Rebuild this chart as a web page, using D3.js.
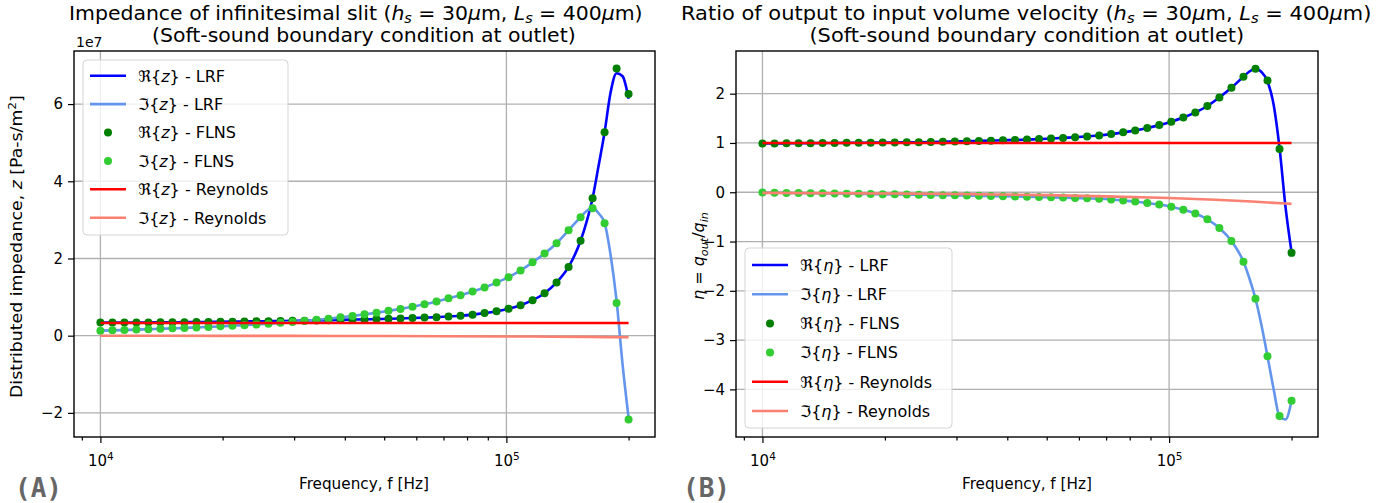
<!DOCTYPE html>
<html>
<head>
<meta charset="utf-8">
<script src="https://cdn.jsdelivr.net/npm/d3@7"></script>
<style>
  body { margin: 0; background: #fff; }
  svg { font-family: "DejaVu Sans", sans-serif; }
</style>
</head>
<body>
<svg id="chart" width="1386" height="503"></svg>
<script>
/*** Frequencies [Hz] of the FLNS points (log spaced, 1e4 .. 2e5) ***/
var freq = [10000, 10705, 11459, 12266, 13130, 14055, 15046, 16106, 17241, 18455,
  19756, 21147, 22637, 24232, 25940, 27767, 29724, 31818, 34060, 36459,
  39028, 41778, 44721, 47872, 51245, 54856, 58721, 62858, 67287, 72027,
  77102, 82535, 88350, 94574, 101238, 108371, 116006, 124179, 132928, 142294,
  152319, 163051, 174539, 186836, 200000];

// LRF curves are sampled a bit finer near the resonance
var lrfFreq = [10000, 10705, 11459, 12266, 13130, 14055, 15046, 16106, 17241, 18455,
  19756, 21147, 22637, 24232, 25940, 27767, 29724, 31818, 34060, 36459,
  39028, 41778, 44721, 47872, 51245, 54856, 58721, 62858, 67287, 72027,
  77102, 82535, 88350, 94574, 101238, 108371, 116006, 124179, 132928, 142294,
  152319, 157597, 163051, 168697, 174539, 180583, 186836, 193306, 200000];

var reyFreq = [10000, 20000, 30000, 50000, 70000, 100000, 130000, 160000, 200000];

/*** Panel A : distributed impedance, in units of 1e7 Pa-s/m^2 ***/
var flnsReZ = [0.34, 0.34, 0.34, 0.342, 0.344, 0.346, 0.348, 0.35, 0.353, 0.356,
  0.36, 0.364, 0.368, 0.372, 0.376, 0.38, 0.385, 0.39, 0.396, 0.402,
  0.408, 0.415, 0.422, 0.43, 0.438, 0.447, 0.457, 0.468, 0.48, 0.495,
  0.515, 0.545, 0.585, 0.635, 0.70, 0.79, 0.92, 1.10, 1.38, 1.78,
  2.46, 3.56, 5.27, 6.92, 6.26];
var flnsImZ = [0.13, 0.138, 0.147, 0.157, 0.167, 0.178, 0.19, 0.202, 0.215, 0.228,
  0.242, 0.257, 0.273, 0.29, 0.31, 0.332, 0.356, 0.382, 0.41, 0.44,
  0.475, 0.512, 0.552, 0.596, 0.643, 0.694, 0.75, 0.812, 0.885, 0.97,
  1.05, 1.145, 1.25, 1.375, 1.515, 1.69, 1.90, 2.13, 2.395, 2.73,
  3.07, 3.30, 2.91, 0.845, -2.17];
var lrfReZ = [0.34, 0.34, 0.34, 0.342, 0.344, 0.346, 0.348, 0.35, 0.353, 0.356,
  0.36, 0.364, 0.368, 0.372, 0.376, 0.38, 0.385, 0.39, 0.396, 0.402,
  0.408, 0.415, 0.422, 0.43, 0.438, 0.447, 0.457, 0.468, 0.48, 0.495,
  0.515, 0.545, 0.585, 0.635, 0.70, 0.79, 0.92, 1.10, 1.38, 1.78,
  2.46, 2.95, 3.56, 4.40, 5.27, 6.30, 6.80, 6.72, 6.14];
var lrfImZ = [0.13, 0.138, 0.147, 0.157, 0.167, 0.178, 0.19, 0.202, 0.215, 0.228,
  0.242, 0.257, 0.273, 0.29, 0.31, 0.332, 0.356, 0.382, 0.41, 0.44,
  0.475, 0.512, 0.552, 0.596, 0.643, 0.694, 0.75, 0.812, 0.885, 0.97,
  1.05, 1.145, 1.25, 1.375, 1.515, 1.69, 1.90, 2.13, 2.395, 2.73,
  3.07, 3.23, 3.31, 3.17, 2.92, 2.09, 0.90, -0.75, -2.13];
var reyReZ = [0.328, 0.328, 0.328, 0.328, 0.328, 0.328, 0.328, 0.328, 0.328];
var reyImZ = [-0.002, -0.004, -0.006, -0.01, -0.014, -0.02, -0.026, -0.032, -0.04];

/*** Panel B : volume velocity ratio eta ***/
var flnsReEta = [0.99, 0.99, 0.992, 0.994, 0.996, 0.998, 1.0, 1.002, 1.004, 1.006,
  1.008, 1.01, 1.013, 1.016, 1.02, 1.025, 1.03, 1.035, 1.041, 1.047,
  1.054, 1.06, 1.068, 1.078, 1.09, 1.103, 1.117, 1.133, 1.152, 1.18,
  1.215, 1.255, 1.303, 1.362, 1.432, 1.515, 1.62, 1.75, 1.925, 2.12,
  2.345, 2.505, 2.265, 0.88, -1.23];
var flnsImEta = [-0.007, -0.01, -0.013, -0.016, -0.019, -0.022, -0.026, -0.029, -0.032, -0.036,
  -0.04, -0.043, -0.047, -0.051, -0.055, -0.059, -0.063, -0.067, -0.071, -0.076,
  -0.08, -0.085, -0.09, -0.096, -0.102, -0.109, -0.116, -0.124, -0.133, -0.146,
  -0.165, -0.19, -0.217, -0.25, -0.295, -0.355, -0.43, -0.55, -0.725, -0.99,
  -1.41, -2.16, -3.33, -4.54, -4.23];
var lrfReEta = [0.99, 0.99, 0.992, 0.994, 0.996, 0.998, 1.0, 1.002, 1.004, 1.006,
  1.008, 1.01, 1.013, 1.016, 1.02, 1.025, 1.03, 1.035, 1.041, 1.047,
  1.054, 1.06, 1.068, 1.078, 1.09, 1.103, 1.117, 1.133, 1.152, 1.18,
  1.215, 1.255, 1.303, 1.362, 1.432, 1.515, 1.62, 1.75, 1.925, 2.12,
  2.345, 2.45, 2.51, 2.44, 2.25, 1.79, 0.90, -0.30, -1.21];
var lrfImEta = [-0.007, -0.01, -0.013, -0.016, -0.019, -0.022, -0.026, -0.029, -0.032, -0.036,
  -0.04, -0.043, -0.047, -0.051, -0.055, -0.059, -0.063, -0.067, -0.071, -0.076,
  -0.08, -0.085, -0.09, -0.096, -0.102, -0.109, -0.116, -0.124, -0.133, -0.146,
  -0.165, -0.19, -0.217, -0.25, -0.295, -0.355, -0.43, -0.55, -0.725, -0.99,
  -1.41, -1.75, -2.16, -2.70, -3.33, -3.98, -4.55, -4.61, -4.23];
var reyReEta = [1, 1, 1, 1, 1, 1, 1, 1, 1];
var reyImEta = [-0.012, -0.024, -0.035, -0.059, -0.083, -0.118, -0.153, -0.189, -0.236];

/*** Ticks ***/
var xMajor = [1e4, 1e5];
var xMinor = [9000, 20000, 30000, 40000, 50000, 60000, 70000, 80000, 90000, 200000];
var yTicksA = [-2, 0, 2, 4, 6];
var yTicksB = [-4, -3, -2, -1, 0, 1, 2];

var svg = d3.select("#chart");

// text made of plain / italic / sub / sup pieces (stand-in for mathtext)
function addMath(text, parts, size, subDrop) {
  var drop = subDrop === undefined ? 0.22 : subDrop;
  var shift = 0, nodes = [];
  parts.forEach(function (p) {
    var style = p[1] || "";
    var target = style === "sub" ? size * drop : (style === "sup" ? -size * 0.4 : 0);
    var s = text.append("tspan").attr("dy", target - shift).text(p[0]);
    shift = target;
    if (style === "i" || style === "sub") s.attr("font-style", "italic");
    if (style === "sub" || style === "sup") s.attr("font-size", size * 0.7);
    nodes.push(s);
  });
  return nodes;
}

function widthOf(nodes) {
  return d3.sum(nodes, (s) => s.node().getComputedTextLength());
}

// squeeze a text horizontally so it spans `len` pixels (the figure is condensed)
function fitText(parts, size, x, y, len, rotate) {
  var t = svg.append("text").attr("font-size", size);
  var sx = len / widthOf(addMath(t, parts, size));
  t.attr("transform", "translate(" + x + "," + y + ")" + (rotate ? " rotate(-90)" : "") +
    " scale(" + sx + ",1)");
  return t;
}

// two-line title in one text element
function titleBlock(line1, line2, left1, len1, center2) {
  var size = 19;
  var t = svg.append("text").attr("font-size", size);
  var n1 = addMath(t, line1, size, 0.14);
  var n2 = addMath(t, line2, size);
  var sx = len1 / widthOf(n1);
  n1[0].attr("x", left1 / sx).attr("y", 20);
  n2[0].attr("x", center2 / sx - widthOf(n2) / 2).attr("y", 42);
  t.attr("transform", "scale(" + sx + ",1)");
}

function seriesList(re, im, varName) {
  return [
    { kind: "line", x: lrfFreq, y: re[0], color: "#0000ff", part: "\u211c", src: "LRF" },
    { kind: "line", x: lrfFreq, y: im[0], color: "#6495ed", part: "\u2111", src: "LRF" },
    { kind: "dot", x: freq, y: re[1], color: "#008000", part: "\u211c", src: "FLNS" },
    { kind: "dot", x: freq, y: im[1], color: "#32cd32", part: "\u2111", src: "FLNS" },
    { kind: "line", x: reyFreq, y: re[2], color: "#ff0000", part: "\u211c", src: "Reynolds" },
    { kind: "line", x: reyFreq, y: im[2], color: "#fa8072", part: "\u2111", src: "Reynolds" }
  ].map(function (s) { s.v = varName; return s; });
}

function drawPanel(p) {
  var g = svg.append("g");

  /*** Scales, padded by 5% like matplotlib autoscale ***/
  var allF = [], allV = [];
  p.series.forEach(function (s) { allF = allF.concat(s.x); allV = allV.concat(s.y); });
  var lf = d3.extent(allF).map(Math.log10);
  var padF = 0.05 * (lf[1] - lf[0]);
  var x = d3.scaleLog()
    .domain([Math.pow(10, lf[0] - padF), Math.pow(10, lf[1] + padF)])
    .range([p.left, p.right]);
  var ve = d3.extent(allV);
  var padV = 0.05 * (ve[1] - ve[0]);
  var y = d3.scaleLinear()
    .domain([ve[0] - padV, ve[1] + padV])
    .range([p.bottom, p.top]);

  /*** Grid ***/
  g.append("g").selectAll("line")
    .data(xMajor)
    .join("line")
    .attr("x1", (d) => x(d)).attr("x2", (d) => x(d))
    .attr("y1", p.top).attr("y2", p.bottom)
    .attr("stroke", "#b0b0b0").attr("stroke-width", 1.3);
  g.append("g").selectAll("line")
    .data(p.yTicks)
    .join("line")
    .attr("x1", p.left).attr("x2", p.right)
    .attr("y1", (d) => y(d)).attr("y2", (d) => y(d))
    .attr("stroke", "#b0b0b0").attr("stroke-width", 1.3);

  /*** Series ***/
  var line = d3.line()
    .x((d) => x(d[0]))
    .y((d) => y(d[1]))
    .curve(d3.curveMonotoneX);

  p.series.forEach(function (s) {
    var pts = s.x.map((f, i) => [f, s.y[i]]);
    if (s.kind === "line") {
      g.append("path")
        .datum(pts)
        .attr("d", line)
        .attr("fill", "none")
        .attr("stroke", s.color)
        .attr("stroke-width", 2.6);
    } else {
      g.append("g").selectAll("circle")
        .data(pts)
        .join("circle")
        .attr("cx", (d) => x(d[0]))
        .attr("cy", (d) => y(d[1]))
        .attr("r", 4)
        .attr("fill", s.color);
    }
  });

  /*** Axes ***/
  var xAxis = g.append("g")
    .attr("transform", "translate(0," + p.bottom + ")")
    .call(d3.axisBottom(x).tickValues(xMajor).tickSize(6).tickFormat(""));
  xAxis.selectAll(".tick text")
    .attr("y", 29).attr("dy", 0)
    .each(function (d) {
      addMath(d3.select(this), [["10"], [String(Math.round(Math.log10(d))), "sup"]], 15);
    });
  g.append("g")
    .attr("transform", "translate(0," + p.bottom + ")")
    .call(d3.axisBottom(x).tickValues(xMinor).tickSize(3.5).tickFormat(""));

  g.append("g")
    .attr("transform", "translate(" + p.left + ",0)")
    .call(d3.axisLeft(y).tickValues(p.yTicks).tickSize(6).tickPadding(5)
      .tickFormat((d) => (d < 0 ? "\u2212" + Math.abs(d) : String(d))));

  g.selectAll(".domain").remove();
  g.selectAll(".tick line").attr("stroke-width", 1.2);
  g.selectAll(".tick text").attr("fill", "#000");
  g.selectAll("g").filter(function () { return this.hasAttribute("font-size"); })
    .attr("font-size", 15).attr("font-family", null);

  g.append("rect")
    .attr("x", p.left).attr("y", p.top)
    .attr("width", p.right - p.left).attr("height", p.bottom - p.top)
    .attr("fill", "none").attr("stroke", "#000").attr("stroke-width", 1.4);

  /*** Legend ***/
  var L = p.legend;
  var lg = g.append("g").attr("transform", "translate(" + L.x + "," + L.y + ")");
  lg.append("rect")
    .attr("width", L.w).attr("height", L.h).attr("rx", 4)
    .attr("fill", "#fff").attr("fill-opacity", 0.8)
    .attr("stroke", "#d5d5d5");
  p.series.forEach(function (s, i) {
    var cy = L.row0 + i * L.step;
    if (s.kind === "line") {
      lg.append("line")
        .attr("x1", 7).attr("x2", 43).attr("y1", cy).attr("y2", cy)
        .attr("stroke", s.color).attr("stroke-width", 2.6);
    } else {
      lg.append("circle").attr("cx", 25).attr("cy", cy).attr("r", 4).attr("fill", s.color);
    }
    addMath(lg.append("text").attr("x", 55).attr("y", cy + 5.8).attr("font-size", 16),
      [[s.part + "{"], [s.v, "i"], ["} - " + s.src]], 16);
  });

  return { x: x, y: y };
}

/*** Panel A ***/
drawPanel({
  left: 74, right: 655, top: 51, bottom: 437,
  yTicks: yTicksA,
  series: seriesList([lrfReZ, flnsReZ, reyReZ], [lrfImZ, flnsImZ, reyImZ], "z"),
  legend: { x: 83, y: 60, w: 205, h: 175, row0: 15.7, step: 28.4 }
});

/*** Panel B ***/
drawPanel({
  left: 736, right: 1318, top: 51, bottom: 437,
  yTicks: yTicksB,
  series: seriesList([lrfReEta, flnsReEta, reyReEta], [lrfImEta, flnsImEta, reyImEta], "\u03b7"),
  legend: { x: 745, y: 248, w: 207, h: 180, row0: 17, step: 29.2 }
});

/*** Titles and labels ***/
var slitParts = [[" ("], ["h", "i"], ["s", "sub"], [" = 30"], ["\u03bc", "i"], ["m, "],
  ["L", "i"], ["s", "sub"], [" = 400"], ["\u03bc", "i"], ["m)"]];
var subTitle = [["(Soft-sound boundary condition at outlet)"]];
titleBlock([["Impedance of infinitesimal slit"]].concat(slitParts), subTitle, 69, 574, 364);
titleBlock([["Ratio of output to input volume velocity"]].concat(slitParts), subTitle, 681, 691, 1027);

svg.append("text").attr("x", 76).attr("y", 47).attr("font-size", 14).text("1e7");

fitText([["Frequency, f [Hz]"]], 15, 299, 489, 130);
fitText([["Frequency, f [Hz]"]], 15, 962, 489, 130);

fitText([["Distributed impedance, "], ["z", "i"], [" [Pa-s/m"], ["2", "sup"], ["]"]],
  15, 22, 398, 303, true);

addMath(svg.append("text")
  .attr("transform", "translate(704,300) rotate(-90)")
  .attr("font-size", 16),
  [["\u03b7", "i"], [" = "], ["q", "i"], ["out", "sub"], ["/"], ["q", "i"], ["in", "sub"]], 16);

[["(A)", 15], ["(B)", 683]].forEach(function (d) {
  svg.append("text").attr("x", d[1]).attr("y", 497)
    .attr("font-family", "DejaVu Sans Mono").attr("font-weight", "bold")
    .attr("font-size", 26).attr("fill", "#666").text(d[0]);
});
</script>
</body>
</html>
